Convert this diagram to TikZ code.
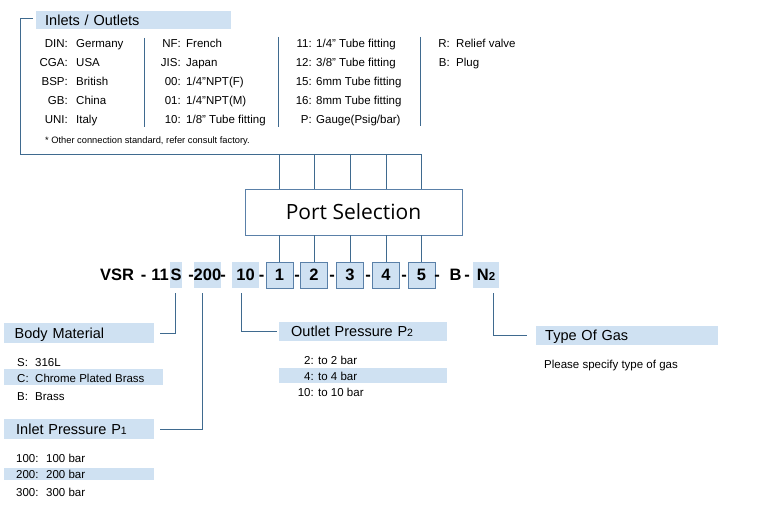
\documentclass[tikz,border=0pt]{standalone}
\usepackage{fontspec}
\setmainfont{Liberation Sans}
\newfontfamily\portfont{Open Sans}
\definecolor{bandblue}{RGB}{207,225,242}
\definecolor{linkblue}{RGB}{63,106,143}
\definecolor{boxblue}{RGB}{90,128,168}

\begin{document}
\begin{tikzpicture}
        [x=1pt, y=-1pt,
        band/.style={fill=bandblue, anchor=north west, inner ysep=0pt, align=left,
            text height=10.4pt, text depth=0pt, font=\fontsize{14.5}{14.5}\selectfont},
        hl/.style={fill=bandblue, inner sep=0pt, anchor=north west},
        item/.style={inner sep=0pt, text height=8.2pt, text depth=0pt, font=\fontsize{11.5}{11.5}\selectfont},
        lbl/.style={item, anchor=east},
        val/.style={item, anchor=west},
        code/.style={inner sep=0pt, text height=11.8pt, text depth=0pt, font=\fontsize{16.5}{16.5}\selectfont\bfseries},
        shade/.style={code, fill=bandblue, minimum height=26pt},
        port/.style={code, fill=bandblue, draw=boxblue, semithick, minimum width=27pt, minimum height=26pt},
        link/.style={linkblue, line width=0.9pt},
        divider/.style={linkblue, line width=0.8pt}]

        \useasboundingbox (0,0) rectangle (767,505);

        % --- Inlets / Outlets table ---
        \node[band, minimum height=18pt, inner xsep=9pt, text width=177pt] (inlets) at (36,11) {Inlets / Outlets};

        \node[lbl] (l11) at (68,43) {DIN:};
        \node[lbl] (l12) at (68,62) {CGA:};
        \node[lbl] (l13) at (68,81) {BSP:};
        \node[lbl] (l14) at (68,100) {GB:};
        \node[lbl] (l15) at (68,119) {UNI:};
        \node[val] (v11) at (76,43) {Germany};
        \node[val] (v12) at (76,62) {USA};
        \node[val] (v13) at (76,81) {British};
        \node[val] (v14) at (76,100) {China};
        \node[val] (v15) at (76,119) {Italy};

        \node[lbl] (l21) at (181,43) {NF:};
        \node[lbl] (l22) at (181,62) {JIS:};
        \node[lbl] (l23) at (181,81) {00:};
        \node[lbl] (l24) at (181,100) {01:};
        \node[lbl] (l25) at (181,119) {10:};
        \node[val] (v21) at (186,43) {French};
        \node[val] (v22) at (186,62) {Japan};
        \node[val] (v23) at (186,81) {1/4"NPT(F)};
        \node[val] (v24) at (186,100) {1/4"NPT(M)};
        \node[val] (v25) at (186,119) {1/8" Tube fitting};

        \node[lbl] (l31) at (312,43) {11:};
        \node[lbl] (l32) at (312,62) {12:};
        \node[lbl] (l33) at (312,81) {15:};
        \node[lbl] (l34) at (312,100) {16:};
        \node[lbl] (l35) at (312,119) {P:};
        \node[val] (v31) at (316,43) {1/4" Tube fitting};
        \node[val] (v32) at (316,62) {3/8" Tube fitting};
        \node[val] (v33) at (316,81) {6mm Tube fitting};
        \node[val] (v34) at (316,100) {8mm Tube fitting};
        \node[val] (v35) at (316,119) {Gauge(Psig/bar)};

        \node[lbl] (l41) at (450,43) {R:};
        \node[lbl] (l42) at (450,62) {B:};
        \node[val] (v41) at (456,43) {Relief valve};
        \node[val] (v42) at (456,62) {Plug};

        \draw[divider] (144,38) -- (144,127);
        \draw[divider] (278,37) -- (278,127);
        \draw[divider] (420,37) -- (420,126);

        \node[item, anchor=west, font=\fontsize{9.3}{9.3}\selectfont, text height=6.7pt] (note) at (45,140)
            {* Other connection standard, refer consult factory.};

        % --- Port selection ---
        \node[draw=boxblue, semithick, minimum width=217pt, minimum height=46pt,
            font=\portfont\fontsize{21}{21}\selectfont] (ps) at (353.5,212) {Port Selection};

        % --- Model code row ---
        \node[code, anchor=west] (vsr) at (100,275) {VSR};
        \node[code] (d1) at (143.5,275) {-};
        \node[code] (c11) at (160,275) {11};
        \node[shade, minimum width=12pt] (sbox) at (176,275) {S};
        \node[code] (d2) at (191,275) {-};
        \node[shade, minimum width=27pt] (b200) at (207.5,275) {200};
        \node[code] (d3) at (223,275) {-};
        \node[shade, minimum width=27pt] (b10) at (245.5,275) {10};
        \node[code] (d4) at (261.5,275) {-};
        \node[port] (p1) at (279.5,275) {1};
        \node[code] (d5) at (297,275) {-};
        \node[port] (p2) at (314,275) {2};
        \node[code] (d6) at (332,275) {-};
        \node[port] (p3) at (350,275) {3};
        \node[code] (d7) at (368,275) {-};
        \node[port] (p4) at (386,275) {4};
        \node[code] (d8) at (404,275) {-};
        \node[port] (p5) at (421.5,275) {5};
        \node[code] (d9) at (437,275) {-};
        \node[code] (cb) at (455.5,275) {B};
        \node[code] (d10) at (467,275) {-};
        \node[shade, minimum width=26pt] (bN) at (486,275) {N{\fontsize{11.5}{11.5}\selectfont 2}};

        % --- Lower groups ---
        \node[band, minimum height=20pt, inner xsep=10.5pt, text width=129pt] (bodymat) at (4,323) {Body Material};
        \node[hl, minimum width=159pt, minimum height=16pt] (hlC) at (4,369) {};
        \node[val] (bs) at (17,362) {S:};
        \node[val] (bc) at (17,378) {C:};
        \node[val] (bb) at (17,396) {B:};
        \node[val] (bsv) at (35,362) {316L};
        \node[val] (bcv) at (35,378) {Chrome Plated Brass};
        \node[val] (bbv) at (35,396) {Brass};

        \node[band, minimum height=20pt, inner xsep=12pt, text width=126pt] (inpres) at (4,419)
            {Inlet Pressure P{\fontsize{10.5}{10.5}\selectfont 1}};
        \node[hl, minimum width=150pt, minimum height=12pt] (hl200) at (4,468) {};
        \node[val] (i1) at (16,458) {100:};
        \node[val] (i2) at (16,474) {200:};
        \node[val] (i3) at (16,492) {300:};
        \node[val] (i1v) at (46,458) {100 bar};
        \node[val] (i2v) at (46,474) {200 bar};
        \node[val] (i3v) at (46,492) {300 bar};

        \node[band, minimum height=19pt, inner xsep=12pt, text width=144pt] (outpres) at (279,322)
            {Outlet Pressure P{\fontsize{10.5}{10.5}\selectfont 2}};
        \node[hl, minimum width=168pt, minimum height=15pt] (hl4) at (279,368) {};
        \node[lbl] (o1) at (314,360) {2:};
        \node[lbl] (o2) at (314,376) {4:};
        \node[lbl] (o3) at (314,392) {10:};
        \node[val] (o1v) at (318,360) {to 2 bar};
        \node[val] (o2v) at (318,376) {to 4 bar};
        \node[val] (o3v) at (318,392) {to 10 bar};

        \node[band, minimum height=19pt, inner xsep=9pt, text width=164pt] (gas) at (536,326) {Type Of Gas};
        \node[val] (gasnote) at (544,364) {Please specify type of gas};

        % --- Connectors ---
        \coordinate (bus) at (0,154);
        \coordinate (corner) at (20,154);
        \draw[link] ([xshift=-3pt,yshift=2pt]inlets.west) -| (corner) -| (ps.north -| p5);
        \draw[link] (p1 |- bus) -- (ps.north -| p1);
        \draw[link] (p2 |- bus) -- (ps.north -| p2);
        \draw[link] (p3 |- bus) -- (ps.north -| p3);
        \draw[link] (p4 |- bus) -- (ps.north -| p4);

        \draw[link] (ps.south -| p1) -- (p1.north);
        \draw[link] (ps.south -| p2) -- (p2.north);
        \draw[link] (ps.south -| p3) -- (p3.north);
        \draw[link] (ps.south -| p4) -- (p4.north);
        \draw[link] (ps.south -| p5) -- (p5.north);

        \draw[link] ([xshift=6pt]bodymat.east) -| ([xshift=-1pt,yshift=-5pt]sbox.south);
        \draw[link] ([xshift=6pt]inpres.east) -| ([xshift=-5pt,yshift=-5pt]b200.south);
        \draw[link] ([xshift=-4pt,yshift=-5pt]b10.south) |- ([xshift=-2pt]outpres.west);
        \draw[link] ([xshift=7pt,yshift=-5pt]bN.south) |- ([xshift=-9pt]gas.west);
    \end{tikzpicture}
\end{document}
